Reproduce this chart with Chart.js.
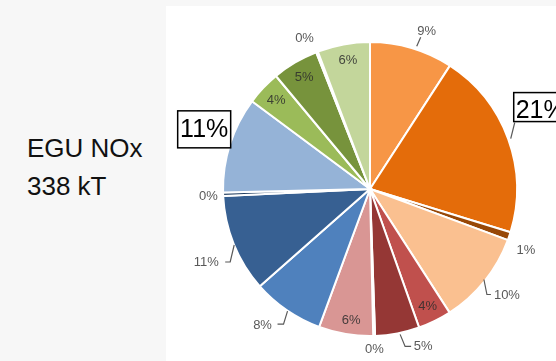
<!DOCTYPE html>
<html>
<head>
<meta charset="utf-8">
<script src="https://cdn.jsdelivr.net/npm/chart.js@4/dist/chart.umd.min.js"></script>
<style>
  body { margin: 0; width: 556px; height: 361px; background: #f7f7f7; overflow: hidden; position: relative; }
  #card { position: absolute; left: 166px; top: 6px; right: 0; bottom: 0; background: #fff; }
  #title { position: absolute; left: 27px; top: 129px; font: 26px "Liberation Sans", Arial, sans-serif; line-height: 38px; color: #111; }
  #pie { position: absolute; left: 0; top: 0; }
</style>
</head>
<body>
<div id="card"></div>
<div id="title">EGU NOx<br>338 kT</div>
<canvas id="pie" width="556" height="361"></canvas>
<script>
// slice shares, clockwise from 12 o'clock
const segments = ['A', 'B', 'C', 'D', 'E', 'F', 'G', 'H', 'I', 'J', 'K', 'L', 'M', 'N', 'O', 'P'];
const shares = [9.2, 20.7, 0.9, 10.3, 3.7, 4.9, 0.2, 6.0, 7.9, 10.8, 0.4, 10.6, 3.8, 5.1, 0.2, 5.8];
const sliceColors = ['#f79646', '#e46c0a', '#984807', '#fac090', '#c0504d', '#953735', '#632523', '#d99694',
                     '#4f81bd', '#376092', '#244062', '#95b3d7', '#9bbb59', '#77933c', '#4f6228', '#c3d69b'];

// where each percentage label sits: distance in radii, angle shift in degrees,
// optional leader line / box (offsets from the label centre)
const placement = [
    { dist: 1.14, shift: 3.3, leader: [[-10, 15], [-6, 6]] },
    { dist: 1.278, shift: -4.7, leader: [[-30, 28], [-26, 12]], box: [-27, -18, 60, 29] },
    { dist: 1.14, shift: 2.9 },
    { dist: 1.18, shift: -0.9, leader: [[-23, -16], [-20, -1], [-16, -1]] },
    { dist: 0.89, shift: 0, inside: true },
    { dist: 1.13, shift: -7.9, leader: [[-23, -12], [-18, 0], [-12, 0]] },
    { dist: 1.09, shift: 0 },
    { dist: 0.90, shift: -1.3, inside: true },
    { dist: 1.18, shift: 3.9, leader: [[25, -14], [21, -1], [15, -1]] },
    { dist: 1.22, shift: -1.9, leader: [[28, -17], [24, 0], [19, 0]] },
    { dist: 1.10, shift: -0.6 },
    { dist: 1.20, shift: 2.3, box: [-26.5, -18, 53, 37] },
    { dist: 0.88, shift: 0, inside: true },
    { dist: 0.88, shift: 0, inside: true },
    { dist: 1.12, shift: -2.3 },
    { dist: 0.89, shift: 0.7, inside: true }
];

const sliceLabels = {
    id: 'sliceLabels',
    afterDatasetsDraw(chart) {
        const ctx = chart.ctx;
        const values = chart.data.datasets[0].data;
        const total = values.reduce((a, b) => a + b, 0);
        chart.getDatasetMeta(0).data.forEach((arc, i) => {
            const p = placement[i];
            const ang = (arc.startAngle + arc.endAngle) / 2 + p.shift * Math.PI / 180;
            const x = arc.x + Math.cos(ang) * arc.outerRadius * p.dist;
            const y = arc.y + Math.sin(ang) * arc.outerRadius * p.dist;
            const text = Math.round(values[i] / total * 100) + '%';
            ctx.save();
            if (p.leader) {
                ctx.strokeStyle = '#595959';
                ctx.lineWidth = 1.2;
                ctx.beginPath();
                p.leader.forEach(([dx, dy], k) => k ? ctx.lineTo(x + dx, y + dy) : ctx.moveTo(x + dx, y + dy));
                ctx.stroke();
            }
            ctx.textAlign = 'center';
            ctx.textBaseline = 'middle';
            if (p.box) {
                ctx.fillStyle = '#fff';
                ctx.fillRect(x + p.box[0], y + p.box[1], p.box[2], p.box[3]);
                ctx.strokeStyle = '#000';
                ctx.lineWidth = 1.5;
                ctx.strokeRect(x + p.box[0], y + p.box[1], p.box[2], p.box[3]);
                ctx.fillStyle = '#000';
                ctx.font = '25px "Liberation Sans", Arial, sans-serif';
                ctx.fillText(text, x, y + 1);
            } else {
                ctx.fillStyle = p.inside ? 'rgba(45,45,45,0.85)' : '#595959';
                ctx.font = '13px "Liberation Sans", Arial, sans-serif';
                ctx.fillText(text, x, y);
            }
            ctx.restore();
        });
    }
};

new Chart(document.getElementById('pie'), {
    type: 'pie',
    data: {
        labels: segments,
        datasets: [{
            data: shares,
            backgroundColor: sliceColors,
            borderColor: '#fff',
            borderWidth: 2
        }]
    },
    options: {
        responsive: false,
        animation: false,
        layout: { padding: { left: 222, right: 38, top: 41, bottom: 24 } },
        plugins: {
            legend: { display: false },
            tooltip: { enabled: false }
        }
    },
    plugins: [sliceLabels]
});
</script>
</body>
</html>
